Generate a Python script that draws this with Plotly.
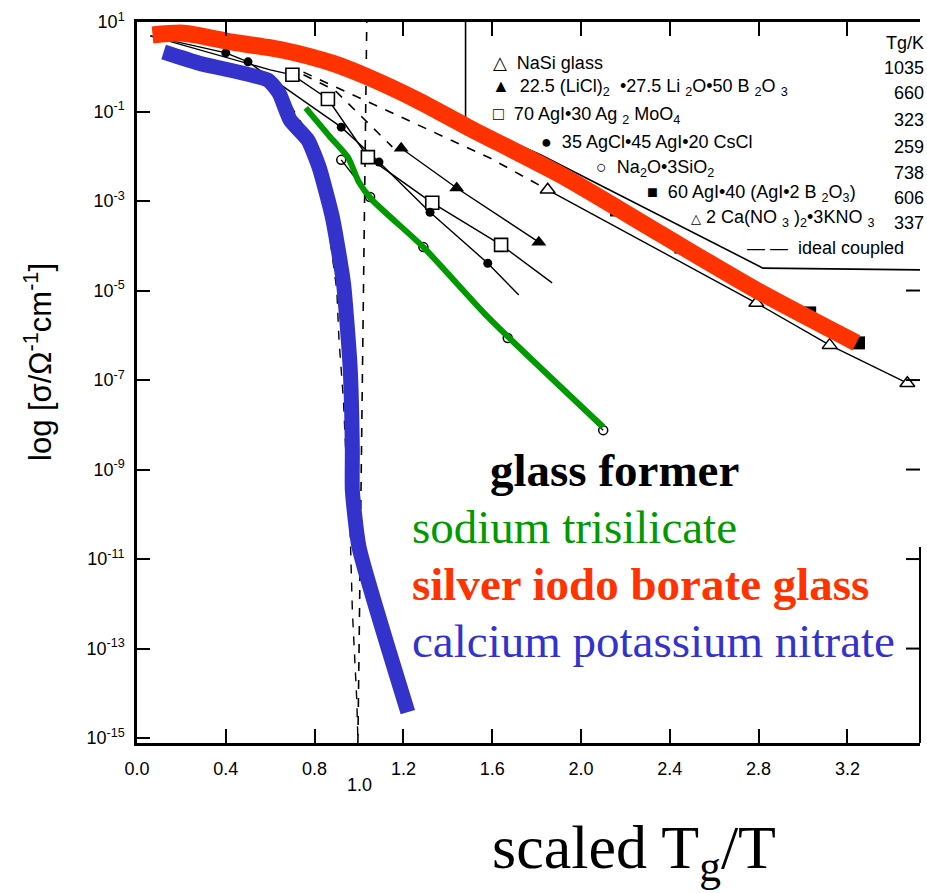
import plotly.graph_objects as go

# ---------------- data (x = scaled Tg/T, y = log10 sigma) ----------------
red_x = [0.07, 0.21, 0.43, 0.66, 0.88, 1.04, 1.26, 1.49, 1.91, 2.36, 2.79, 3.24]
red_y = [0.71, 0.75, 0.55, 0.37, 0.08, -0.23, -0.74, -1.35, -2.42, -3.74, -4.99, -6.17]

blue_x = [0.12, 0.28, 0.59, 0.64, 0.69, 0.77, 0.82, 0.88, 0.93, 0.96, 0.97, 0.97, 1.00, 1.22]
blue_y = [0.33, 0.08, -0.30, -0.59, -1.19, -1.64, -2.24, -3.36, -4.83, -6.71, -8.56, -9.46, -10.73, -14.42]

green_x = [0.76, 0.87, 0.95, 1.00, 1.06, 1.29, 1.58, 2.10]
green_y = [-0.92, -1.57, -2.02, -2.58, -2.98, -4.03, -5.59, -8.05]

# 70 AgI-30 Ag2MoO4 (open squares)
agmo_line_x = [0.06, 0.60, 0.70, 0.86, 1.04, 1.33, 1.64, 1.87]
agmo_line_y = [0.69, -0.07, -0.18, -0.72, -2.02, -3.04, -3.98, -4.83]
agmo_x = [0.70, 0.86, 1.04, 1.33, 1.64]
agmo_y = [-0.18, -0.72, -2.02, -3.04, -3.98]

# 35 AgCl-45 AgI-20 CsCl (filled circles)
agcl_line_x = [0.06, 0.40, 0.50, 0.92, 1.09, 1.32, 1.58, 1.72]
agcl_line_y = [0.69, 0.31, 0.11, -1.35, -2.13, -3.25, -4.39, -5.10]
agcl_x = [0.40, 0.50, 0.92, 1.09, 1.32, 1.58]
agcl_y = [0.31, 0.11, -1.35, -2.13, -3.25, -4.39]

# LiCl borate (filled triangles)
licl_x = [1.19, 1.44, 1.81]
licl_y = [-1.82, -2.71, -3.92]

# NaSi glass (open triangles)
nasi_x = [1.85, 2.79, 3.12, 3.47]
nasi_y = [-2.75, -5.28, -6.22, -7.07]

# 60 AgI-40 (AgI-2B2O3) (filled squares)
agib_x = [2.16, 2.45, 3.03, 3.25]
agib_y = [-3.20, -4.03, -5.50, -6.17]

# Na2O-3SiO2 (open circles)
nas3_x = [0.92, 1.05, 1.29, 1.67, 2.10]
nas3_y = [-2.08, -2.91, -4.03, -6.06, -8.12]

# ideal coupled (dashed)
ideal1_x = [0.75, 1.59, 1.85]
ideal1_y = [-0.12, -2.04, -2.75]
ideal2_x = [0.75, 0.89, 1.15]
ideal2_y = [-0.18, -0.52, -1.79]

# 2Ca(NO3)2-3KNO3 (dashed curve)
ckn_x = [0.69, 0.76, 0.81, 0.84, 0.87, 0.90, 0.91, 0.93, 0.94, 0.96, 0.97, 0.99, 0.995]
ckn_y = [-0.85, -1.41, -2.08, -2.98, -3.87, -4.99, -6.11, -7.45, -8.56, -10.35, -12.14, -14.15, -15.04]

# vertical reference at Tg/T = 1
vref_x = [0.995, 1.035]
vref_y = [-15.11, 1.0]

# inset-legend frame
frame_x = [1.48, 1.48, 1.82, 2.82, 3.56]
frame_y = [1.0, -1.23, -1.97, -4.50, -4.54]

x_ticks = [0.0, 0.4, 0.8, 1.2, 1.6, 2.0, 2.4, 2.8, 3.2]
y_exps = [1, -1, -3, -5, -7, -9, -11, -13, -15]
right_tick_exps = [-5, -7, -9, -11, -13]

legend_rows = [
    ("△  NaSi glass", 491, 63, "1035"),
    ("▲  22.5 (LiCl)<sub>2</sub>  •27.5 Li <sub>2</sub>O•50 B <sub>2</sub>O <sub>3</sub>", 490, 88, "660"),
    ("□  70 AgI•30 Ag <sub>2</sub> MoO<sub>4</sub>", 491, 115, "323"),
    ("●  35 AgCl•45 AgI•20 CsCl", 539, 142, "259"),
    ("○  Na<sub>2</sub>O•3SiO<sub>2</sub>", 594, 168, "738"),
    ("■  60 AgI•40 (AgI•2 B <sub>2</sub>O<sub>3</sub>)", 645, 193, "606"),
    ("<span style='font-size:13px'>△</span> 2 Ca(NO <sub>3</sub> )<sub>2</sub>•3KNO <sub>3</sub>", 689, 218, "337"),
    ("— —  ideal coupled", 745, 248, None),
]

# ---------------- figure ----------------
L, R, T, B = 137, 920, 22, 743
W, H = 927, 893
XR = [0.0, 3.527]
YR = [-15.11, 1.0]


def pxx(p):
    return (p - L) / (R - L)


def pxy(p):
    return (B - p) / (B - T)


def ly(e):
    return (e - YR[0]) / (YR[1] - YR[0])


def pw(v):
    return [10 ** e for e in v]


fig = go.Figure()

thin = dict(color="black", width=1.4)

fig.add_trace(go.Scatter(x=frame_x, y=pw(frame_y), mode="lines", line=dict(color="black", width=1.6)))
fig.add_trace(go.Scatter(x=vref_x, y=pw(vref_y), mode="lines", line=dict(color="black", width=1.6, dash="dash")))
fig.add_trace(go.Scatter(x=ckn_x, y=pw(ckn_y), mode="lines", line=dict(color="black", width=1.4, dash="dash")))
fig.add_trace(go.Scatter(x=ideal1_x, y=pw(ideal1_y), mode="lines", line=dict(color="black", width=1.6, dash="dash")))
fig.add_trace(go.Scatter(x=ideal2_x, y=pw(ideal2_y), mode="lines", line=dict(color="black", width=1.6, dash="dash")))
fig.add_trace(go.Scatter(x=agmo_line_x, y=pw(agmo_line_y), mode="lines", line=thin))
fig.add_trace(go.Scatter(x=agcl_line_x, y=pw(agcl_line_y), mode="lines", line=thin))
fig.add_trace(go.Scatter(x=nas3_x, y=pw(nas3_y), mode="lines+markers", line=thin,
                         marker=dict(symbol="circle-open", size=9, color="black", line=dict(width=1.5))))
fig.add_trace(go.Scatter(x=agib_x, y=pw(agib_y), mode="lines+markers", line=thin,
                         marker=dict(symbol="square", size=13, color="black")))
fig.add_trace(go.Scatter(x=nasi_x, y=pw(nasi_y), mode="lines+markers", line=thin,
                         marker=dict(symbol="triangle-up", size=13, color="white", line=dict(width=1.5, color="black"))))
fig.add_trace(go.Scatter(x=licl_x, y=pw(licl_y), mode="lines+markers", line=thin,
                         marker=dict(symbol="triangle-up", size=13, color="black")))
fig.add_trace(go.Scatter(x=agmo_x, y=pw(agmo_y), mode="markers",
                         marker=dict(symbol="square", size=13, color="white", line=dict(width=1.6, color="black"))))
fig.add_trace(go.Scatter(x=agcl_x, y=pw(agcl_y), mode="markers",
                         marker=dict(symbol="circle", size=9, color="black")))

# coloured overlays
fig.add_trace(go.Scatter(x=green_x, y=pw(green_y), mode="lines", line=dict(color="#009a00", width=6, shape="spline", smoothing=0.6)))
fig.add_trace(go.Scatter(x=blue_x, y=pw(blue_y), mode="lines", line=dict(color="#3333cc", width=15, shape="spline", smoothing=0.5)))
fig.add_trace(go.Scatter(x=red_x, y=pw(red_y), mode="lines", line=dict(color="#ff3300", width=17, shape="spline", smoothing=0.7)))

ann = []
sans = "Liberation Sans, Arial, DejaVu Sans"
serif = "Liberation Serif, Times New Roman, serif"
for txt, xp, yp, tg in legend_rows:
    ann.append(dict(x=pxx(xp), y=pxy(yp), xref="paper", yref="paper", text=txt, showarrow=False,
                    xanchor="left", yanchor="middle", font=dict(family=sans, size=18, color="black")))
    if tg:
        ann.append(dict(x=pxx(926), y=pxy(yp + 5), xref="paper", yref="paper", text=tg, showarrow=False,
                        xanchor="right", yanchor="middle", font=dict(family=sans, size=18, color="black")))
ann.append(dict(x=pxx(926), y=pxy(43), xref="paper", yref="paper", text="Tg/K", showarrow=False,
                xanchor="right", yanchor="middle", font=dict(family=sans, size=18, color="black")))

ann.append(dict(x=pxx(359), y=pxy(785), xref="paper", yref="paper", text="1.0", showarrow=False,
                xanchor="center", yanchor="middle", font=dict(family=sans, size=18, color="black")))

ann.append(dict(x=pxx(38), y=pxy(362), xref="paper", yref="paper", textangle=-90,
                text="log [σ/Ω<sup>-1</sup>cm<sup>-1</sup>]", showarrow=False,
                xanchor="center", yanchor="middle", font=dict(family=sans, size=31, color="black")))

big = [
    ("<b>glass former</b>", 488, 470, "black"),
    ("sodium trisilicate", 410, 527, "#009900"),
    ("<b>silver iodo borate glass</b>", 410, 584, "#ff3300"),
    ("calcium potassium nitrate", 410, 641, "#3333cc"),
]
for txt, xp, yp, col in big:
    ann.append(dict(x=pxx(xp), y=pxy(yp), xref="paper", yref="paper", text=txt, showarrow=False,
                    xanchor="left", yanchor="middle", font=dict(family=serif, size=47, color=col)))
ann.append(dict(x=pxx(490), y=pxy(851), xref="paper", yref="paper", text="scaled T<sub>g</sub>/T",
                showarrow=False, xanchor="left", yanchor="middle", font=dict(family=serif, size=62, color="black")))

shapes = [dict(type="line", xref="paper", yref="paper", x0=1, x1=1, y0=0, y1=ly(-10.73),
               line=dict(color="black", width=2))]
for e in right_tick_exps:
    shapes.append(dict(type="line", xref="paper", yref="paper", x0=1, x1=1 - 14 / (R - L), y0=ly(e), y1=ly(e),
                       line=dict(color="black", width=2)))

fig.update_layout(
    width=W, height=H, autosize=False,
    margin=dict(l=L, r=W - R, t=T, b=H - B),
    paper_bgcolor="white", plot_bgcolor="white",
    showlegend=False,
    annotations=ann, shapes=shapes,
    xaxis=dict(range=XR, tickvals=x_ticks, ticktext=[f"{v:.1f}" for v in x_ticks],
               ticks="inside", ticklen=14, tickwidth=2, tickcolor="black",
               showline=True, linecolor="black", linewidth=2.5, mirror="ticks",
               showgrid=False, zeroline=False, ticklabelstandoff=8,
               tickfont=dict(family=sans, size=18, color="black")),
    yaxis=dict(type="log", range=YR, tickvals=[10 ** e for e in y_exps],
               ticktext=[f"10<sup>{e}</sup>" for e in y_exps],
               ticks="inside", ticklen=13, tickwidth=2, tickcolor="black",
               showline=True, linecolor="black", linewidth=2.5,
               showgrid=False, zeroline=False, ticklabelstandoff=6,
               tickfont=dict(family=sans, size=18, color="black")),
)

fig.write_html("out.html", config={"displayModeBar": False},
               post_script="document.body.style.margin='0';document.body.style.overflow='hidden';")
